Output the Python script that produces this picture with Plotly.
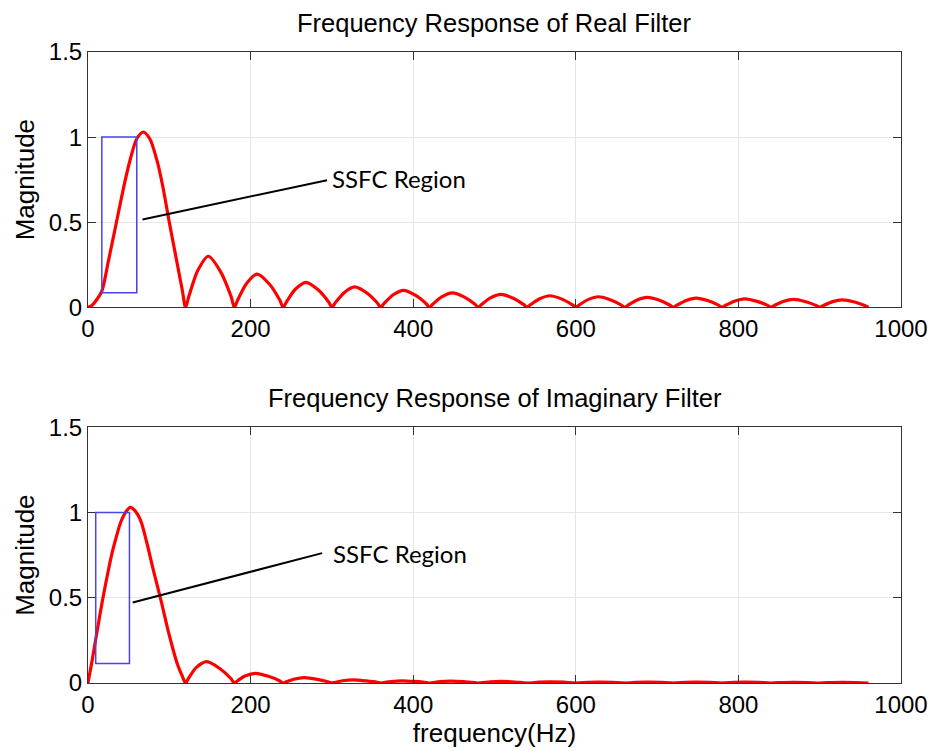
import plotly.graph_objects as go

# ---------------- data ----------------
freq_real = [0, 5, 10, 17, 25, 35, 45, 52, 60, 68, 76, 85, 92, 100, 110, 116, 120,
             124, 135, 148, 163, 176, 180,
             184, 195, 208, 223, 236, 240,
             244, 255, 268, 283, 296, 300,
             304, 315, 328, 343, 356, 360,
             364, 375, 388, 403, 416, 420,
             424, 435, 448, 463, 476, 480,
             484, 495, 508, 523, 536, 540,
             544, 555, 568, 583, 596, 600,
             604, 615, 628, 643, 656, 660,
             664, 675, 688, 703, 716, 720,
             724, 735, 748, 763, 776, 780,
             784, 795, 808, 823, 836, 840,
             844, 855, 868, 883, 896, 900,
             904, 915, 928, 943, 956, 960]
mag_real = [0, 0.012, 0.04, 0.095, 0.27, 0.5, 0.73, 0.87, 0.99, 1.03, 0.99, 0.86, 0.71, 0.5, 0.25, 0.1, 0,
            0.063, 0.216, 0.30, 0.21, 0.063, 0,
            0.041, 0.14, 0.195, 0.137, 0.041, 0,
            0.031, 0.106, 0.147, 0.103, 0.031, 0,
            0.025, 0.086, 0.12, 0.084, 0.025, 0,
            0.021, 0.072, 0.10, 0.07, 0.021, 0,
            0.018, 0.061, 0.085, 0.06, 0.018, 0,
            0.016, 0.055, 0.076, 0.053, 0.016, 0,
            0.014, 0.049, 0.068, 0.048, 0.014, 0,
            0.013, 0.045, 0.062, 0.043, 0.013, 0,
            0.012, 0.042, 0.058, 0.041, 0.012, 0,
            0.011, 0.039, 0.054, 0.038, 0.011, 0,
            0.011, 0.036, 0.050, 0.035, 0.011, 0,
            0.010, 0.034, 0.047, 0.033, 0.010, 0,
            0.009, 0.032, 0.044, 0.031, 0.009, 0]

freq_imag = [0, 5, 10, 15, 20, 25, 30, 35, 40, 46, 52, 58, 65, 72, 80, 90, 100, 110, 116, 120,
             124, 133, 146, 162, 176, 180,
             184, 193, 206, 222, 236, 240,
             244, 253, 266, 282, 296, 300,
             304, 313, 326, 342, 356, 360,
             364, 373, 386, 402, 416, 420,
             424, 433, 446, 462, 476, 480,
             495, 508, 525, 540,
             555, 568, 585, 600,
             615, 628, 645, 660,
             675, 688, 705, 720,
             735, 748, 765, 780,
             795, 808, 825, 840,
             855, 868, 885, 900,
             915, 928, 945, 960]
mag_imag = [0, 0.13, 0.27, 0.41, 0.54, 0.66, 0.77, 0.86, 0.94, 1.0, 1.03, 1.01, 0.95, 0.83, 0.67, 0.48, 0.28, 0.11, 0.04, 0,
            0.03, 0.09, 0.125, 0.085, 0.025, 0,
            0.013, 0.041, 0.057, 0.039, 0.012, 0,
            0.007, 0.022, 0.031, 0.021, 0.006, 0,
            0.004, 0.013, 0.018, 0.012, 0.004, 0,
            0.003, 0.009, 0.013, 0.009, 0.003, 0,
            0.002, 0.008, 0.011, 0.008, 0.002, 0,
            0.0065, 0.009, 0.006, 0,
            0.005, 0.007, 0.005, 0,
            0.0043, 0.006, 0.004, 0,
            0.0043, 0.006, 0.004, 0,
            0.0036, 0.005, 0.0033, 0,
            0.0036, 0.005, 0.0033, 0,
            0.003, 0.004, 0.0027, 0,
            0.003, 0.004, 0.0027, 0]

x_ticks = [0, 200, 400, 600, 800, 1000]
y_ticks = [0, 0.5, 1, 1.5]

titles = ["Frequency Response of Real Filter", "Frequency Response of Imaginary Filter"]
region_label = "SSFC Region"
# SSFC region boxes: [x0, x1, y0, y1]
box_real = [17, 60, 0.085, 1.0]
box_imag = [9.5, 51, 0.115, 1.0]
# pointer lines: [x0, y0, x1, y1]
ptr_real = [67, 0.516, 294, 0.747]
ptr_imag = [55, 0.472, 288, 0.762]
label_pos_real = [298, 0.757]
label_pos_imag = [299, 0.76]

# ---------------- figure ----------------
FONT = "Arial, Liberation Sans, sans-serif"
AX_COLOR = "#333333"
GRID = "#e6e6e6"

fig = go.Figure()
fig.add_trace(go.Scatter(x=freq_real, y=mag_real, mode="lines",
                         line=dict(color="#ff0000", width=3.2, shape="spline", smoothing=0.8),
                         xaxis="x", yaxis="y", showlegend=False, hoverinfo="skip"))
fig.add_trace(go.Scatter(x=freq_imag, y=mag_imag, mode="lines",
                         line=dict(color="#ff0000", width=3.2, shape="spline", smoothing=0.8),
                         xaxis="x2", yaxis="y2", showlegend=False, hoverinfo="skip"))

def xax(anchor, title=None):
    d = dict(anchor=anchor, domain=[0, 1], range=[0, 1000], tickvals=x_ticks,
             showline=True, mirror="allticks", linecolor=AX_COLOR, linewidth=1,
             ticks="inside", ticklen=8, tickcolor=AX_COLOR, tickwidth=1,
             showgrid=True, gridcolor=GRID, gridwidth=1, zeroline=False,
             tickfont=dict(family=FONT, size=24, color="black"), ticklabelstandoff=0)
    if title:
        d["title"] = dict(text=title, font=dict(family=FONT, size=26, color="black"), standoff=0)
    return d

def yax(anchor, domain):
    return dict(anchor=anchor, domain=domain, range=[0, 1.5], tickvals=y_ticks,
                showline=True, mirror="allticks", linecolor=AX_COLOR, linewidth=1,
                ticks="inside", ticklen=8, tickcolor=AX_COLOR, tickwidth=1,
                showgrid=True, gridcolor=GRID, gridwidth=1, zeroline=False,
                tickfont=dict(family=FONT, size=24, color="black"), ticklabelstandoff=0,
                title=dict(text="Magnitude", font=dict(family=FONT, size=26, color="black"), standoff=6))

shapes = []
annotations = []
for xr, yr, box, ptr, lab, ttl in [("x", "y", box_real, ptr_real, label_pos_real, titles[0]),
                                    ("x2", "y2", box_imag, ptr_imag, label_pos_imag, titles[1])]:
    shapes.append(dict(type="rect", xref=xr, yref=yr, x0=box[0], x1=box[1], y0=box[2], y1=box[3],
                       line=dict(color="#4646e6", width=1.5)))
    shapes.append(dict(type="line", xref=xr, yref=yr, x0=ptr[0], y0=ptr[1], x1=ptr[2], y1=ptr[3],
                       line=dict(color="black", width=2)))
    annotations.append(dict(xref=xr, yref=yr, x=lab[0], y=lab[1], text=region_label, showarrow=False,
                            xanchor="left", yanchor="middle",
                            font=dict(family="Lato, Open Sans, sans-serif", size=24, color="black")))
    annotations.append(dict(xref=xr + " domain", yref=yr + " domain", x=0.5, y=1, text=ttl,
                            showarrow=False, xanchor="center", yanchor="bottom", yshift=13,
                            font=dict(family=FONT, size=25.5, color="black")))

fig.update_layout(
    width=940, height=751,
    margin=dict(l=88, r=34, t=52, b=68),
    paper_bgcolor="white", plot_bgcolor="white",
    xaxis=xax("y"),
    yaxis=yax("x", [0.5954, 1.0]),
    xaxis2=xax("y2", "frequency(Hz)"),
    yaxis2=yax("x2", [0.0, 0.4052]),
    shapes=shapes, annotations=annotations,
)

fig.write_html("out.html")
